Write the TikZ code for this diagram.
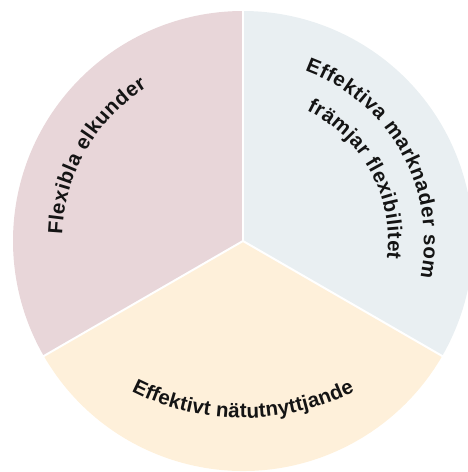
\documentclass[tikz,border=0pt]{standalone}
\usepackage{fontspec}
\usetikzlibrary{calc,decorations.text}
\newfontfamily\lblfont{Liberation Sans Bold}
\newcommand\lblstyle{\lblfont\fontsize{20.5}{24}\selectfont\color{ink}}
\definecolor{ink}{HTML}{141414}
\definecolor{sectorpink}{HTML}{E8D6D9}
\definecolor{sectorblue}{HTML}{E9EFF2}
\definecolor{sectorpeach}{HTML}{FEF0DA}
\tikzset{
  sector/.style={draw=none},
  divider/.style={draw=white, line width=2pt},
  arclabel/.style={decorate, decoration={text along path, text={#1}, text align=fit to path}}
}
\begin{document}
\begin{tikzpicture}[x=1pt,y=1pt]
  \useasboundingbox (0,0) rectangle (468,472);
  \clip (0,0) rectangle (468,472);
  \coordinate (C) at (243,231);
  % three sectors of the wheel
  \fill[sector, sectorpink]  (C) -- ($(C)+(90:230pt)$)  arc[start angle=90,  end angle=210, radius=230pt] -- cycle;
  \fill[sector, sectorblue]  (C) -- ($(C)+(-30:230pt)$) arc[start angle=-30, end angle=90,  radius=230pt] -- cycle;
  \fill[sector, sectorpeach] (C) -- ($(C)+(210:230pt)$) arc[start angle=210, end angle=330, radius=230pt] -- cycle;
  % white gaps between sectors
  \coordinate (d1) at ($(C)+(90:232pt)$);
  \coordinate (d2) at ($(C)+(210:232pt)$);
  \coordinate (d3) at ($(C)+(330:232pt)$);
  \draw[divider] (C) -- (d1);
  \draw[divider] (C) -- (d2);
  \draw[divider] (C) -- (d3);
  % curved labels
  \path[arclabel={|\lblstyle|Flexibla elkunder}]
    ($(C)+(178:181pt)$) arc[start angle=178, end angle=122, radius=181pt];
  \path[arclabel={|\lblstyle|Effektiva marknader som}]
    ($(C)+(70:181pt)$) arc[start angle=70, end angle=-11.5, radius=181pt];
  \path[arclabel={|\lblstyle|främjar flexibilitet}]
    ($(C)+(64:145pt)$) arc[start angle=64, end angle=-7, radius=145pt];
  \coordinate (B) at (243,300);
  \path[arclabel={|\lblstyle|Effektivt nätutnyttjande}]
    ($(B)+(243:246pt)$) arc[start angle=243, end angle=297, radius=246pt];
\end{tikzpicture}
\end{document}
